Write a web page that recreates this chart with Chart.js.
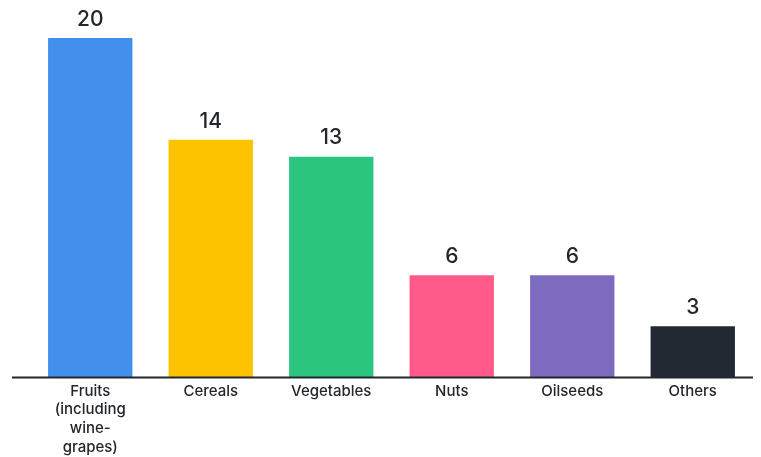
<!DOCTYPE html>
<html>
<head>
<meta charset="utf-8">
<script src="https://cdn.jsdelivr.net/npm/chart.js@4"></script>
<style>
  html, body { margin: 0; padding: 0; background: #ffffff; }
  #wrap { width: 761px; height: 457px; position: relative; }
</style>
</head>
<body>
<div id="wrap"><canvas id="chart"></canvas></div>
<script>
// Crop groups and their counts
const categories = [
  ["Fruits", "(including", "wine-", "grapes)"],
  "Cereals",
  "Vegetables",
  "Nuts",
  "Oilseeds",
  "Others"
];
const counts = [20, 14, 13, 6, 6, 3];
const barColors = ["#4290EC", "#FDC300", "#2CC580", "#FF5A8A", "#7E6BC0", "#232932"];

const FONT = "Inter, 'Noto Sans', sans-serif";
const TEXT = "#23262d";

// Writes each bar's value just above it
const valueLabels = {
  id: "valueLabels",
  afterDatasetsDraw(chart) {
    const ctx = chart.ctx;
    const meta = chart.getDatasetMeta(0);
    ctx.save();
    ctx.fillStyle = TEXT;
    ctx.font = "500 21px " + FONT;
    ctx.textAlign = "center";
    ctx.textBaseline = "bottom";
    meta.data.forEach((bar, i) => {
      ctx.fillText(String(chart.data.datasets[0].data[i]), bar.x, bar.y - 8);
    });
    ctx.restore();
  }
};

// Baseline rule running under all bars
const baseline = {
  id: "baseline",
  afterDatasetsDraw(chart) {
    const ctx = chart.ctx;
    const y = chart.scales.y.getPixelForValue(0);
    ctx.save();
    ctx.strokeStyle = "#22262e";
    ctx.lineWidth = 2;
    ctx.beginPath();
    ctx.moveTo(12, y + 0.5);
    ctx.lineTo(chart.chartArea.right, y + 0.5);
    ctx.stroke();
    ctx.restore();
  }
};

new Chart(document.getElementById("chart"), {
  type: "bar",
  data: {
    labels: categories,
    datasets: [{
      data: counts,
      backgroundColor: barColors,
      borderWidth: 0,
      categoryPercentage: 0.7,
      barPercentage: 1.0
    }]
  },
  options: {
    responsive: true,
    maintainAspectRatio: false,
    animation: false,
    layout: { padding: { left: 30, right: 8, top: 38, bottom: 0 } },
    plugins: {
      legend: { display: false },
      tooltip: { enabled: false }
    },
    scales: {
      x: {
        grid: { display: false, drawTicks: false },
        border: { display: false },
        ticks: {
          color: TEXT,
          font: { family: FONT, size: 15, weight: "500", lineHeight: 1.24 },
          padding: 5,
          maxRotation: 0,
          autoSkip: false
        },
        afterFit(scale) { scale.height = 80; }
      },
      y: {
        display: false,
        min: 0,
        max: 20
      }
    }
  },
  plugins: [valueLabels, baseline]
});
</script>
</body>
</html>
